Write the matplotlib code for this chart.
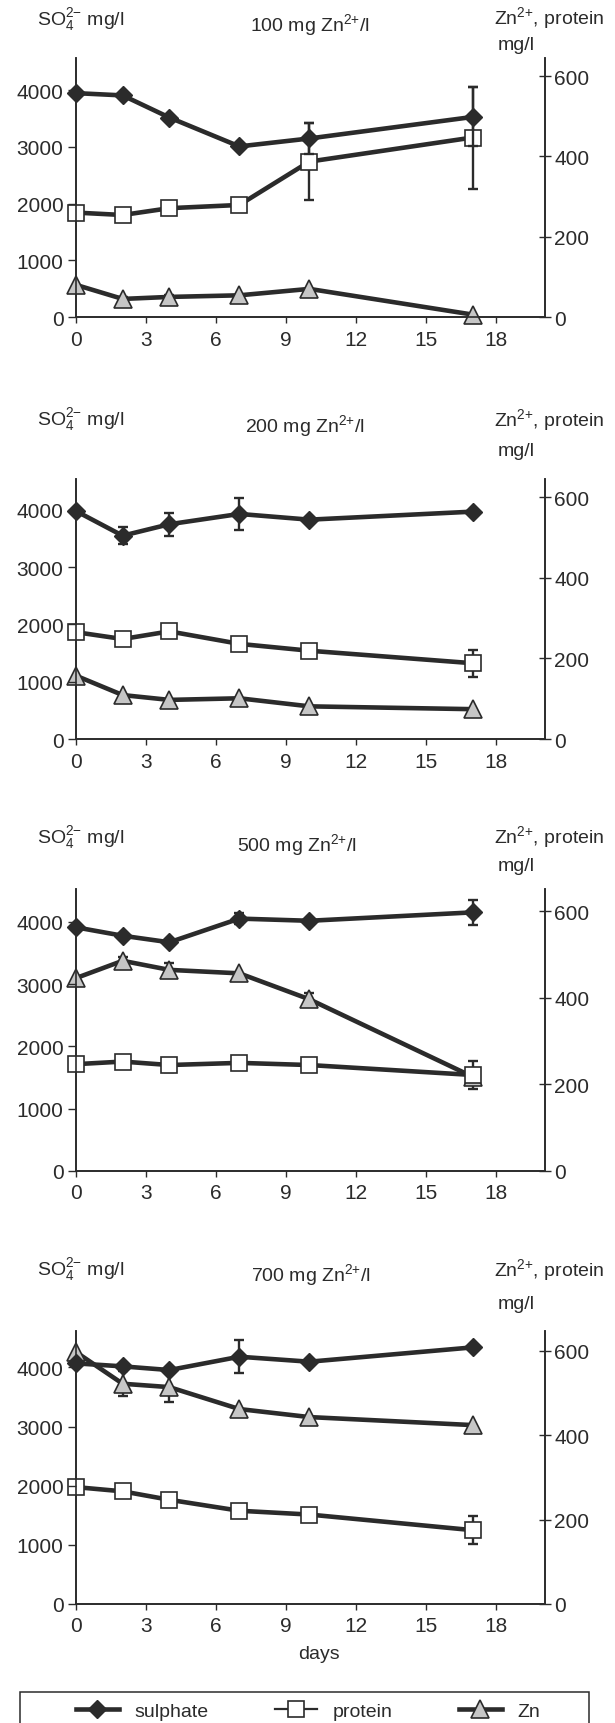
import matplotlib
matplotlib.use('Agg')
from matplotlib import pyplot as plt
from matplotlib.patches import Rectangle
from matplotlib.lines import Line2D
import numpy as np

plt.rcParams['font.family'] = ['Liberation Sans', 'DejaVu Sans']
plt.rcParams['mathtext.fontset'] = 'custom'
plt.rcParams['mathtext.rm'] = 'Liberation Sans'
plt.rcParams['mathtext.default'] = 'regular'

# data
days = [0, 2, 4, 7, 10, 17]
doses = ["100", "200", "500", "700"]

sulphate_100 = [3950, 3910, 3520, 3010, 3150, 3530]
sulphate_100_err = [0, 0, 0, 0, 270, 520]
protein_100 = [260, 254, 271, 279, 387, 447]
protein_100_err = [0, 0, 0, 0, 96, 127]
zn_100 = [80, 45, 50, 54, 70, 6]
zn_100_err = [0, 6, 6, 0, 0, 0]

sulphate_200 = [3980, 3550, 3750, 3930, 3830, 3970]
sulphate_200_err = [0, 150, 205, 275, 0, 0]
protein_200 = [265, 248, 267, 236, 219, 188]
protein_200_err = [0, 0, 0, 0, 0, 34]
zn_200 = [157, 109, 97, 101, 81, 74]
zn_200_err = [0, 0, 0, 0, 0, 0]

sulphate_500 = [3910, 3775, 3670, 4050, 4015, 4150]
sulphate_500_err = [0, 0, 0, 90, 0, 200]
protein_500 = [247, 253, 245, 250, 245, 222]
protein_500_err = [0, 0, 15, 0, 0, 33]
zn_500 = [446, 486, 465, 457, 397, 218]
zn_500_err = [0, 8, 15, 0, 14, 0]

sulphate_700 = [4068, 4017, 3955, 4180, 4096, 4338]
sulphate_700_err = [0, 0, 0, 276, 0, 0]
protein_700 = [277, 267, 247, 221, 212, 175]
protein_700_err = [0, 0, 10, 0, 0, 33]
zn_700 = [597, 522, 514, 462, 443, 424]
zn_700_err = [0, 30, 35, 0, 0, 0]

sulphate_all = [sulphate_100, sulphate_200, sulphate_500, sulphate_700]
sulphate_err_all = [sulphate_100_err, sulphate_200_err, sulphate_500_err, sulphate_700_err]
protein_all = [protein_100, protein_200, protein_500, protein_700]
protein_err_all = [protein_100_err, protein_200_err, protein_500_err, protein_700_err]
zn_all = [zn_100, zn_200, zn_500, zn_700]
zn_err_all = [zn_100_err, zn_200_err, zn_500_err, zn_700_err]

# layout in pixels of the 615x1724 picture
W, H = 615, 1724
ax_left, ax_right = 76, 545
ax_top = [59, 480, 890, 1332]
ax_zero = [318, 740, 1172, 1605]
title_x = [310, 305, 297, 311]
title_y = [25, 426, 845, 1275]
so4_y = [20, 420, 838, 1270]
zn_y = [18, 420, 837, 1270]
mgl_y = [45, 452, 867, 1305]
left_max = [4570, 4540, 4525, 4615]
right_max = [645, 645, 652, 647]

dark = '#2b2b2b'
grey = '#c6c6c6'
fs = 14
fs_tick = 15
lw = 3.3


def fx(px):
    return px / W


def fy(py):
    return 1 - py / H


def err_bars(ax, x, y, e):
    x = np.array(x)
    y = np.array(y)
    e = np.array(e)
    m = e > 0
    if m.any():
        ax.errorbar(x[m], y[m], yerr=e[m], fmt='none', ecolor=dark,
                    elinewidth=1.7, capsize=3.8, capthick=1.7, zorder=2,
                    clip_on=False)


fig = plt.figure(figsize=(W / 100, H / 100), dpi=100)

for i in range(4):
    rect = [fx(ax_left), fy(ax_zero[i]), fx(ax_right - ax_left),
            (ax_zero[i] - ax_top[i]) / H]
    ax = fig.add_axes(rect)
    ax2 = ax.twinx()
    ax.set_zorder(ax2.get_zorder() + 1)
    ax.patch.set_visible(False)

    # protein + Zn on right axis
    err_bars(ax2, days, zn_all[i], zn_err_all[i])
    ax2.plot(days, zn_all[i], color=dark, lw=lw, marker='^', ms=13,
             mfc=grey, mec=dark, mew=1.2, zorder=3, clip_on=False)
    err_bars(ax2, days, protein_all[i], protein_err_all[i])
    ax2.plot(days, protein_all[i], color=dark, lw=lw, marker='s', ms=12,
             mfc='white', mec=dark, mew=1.2, zorder=4, clip_on=False)

    # sulphate on left axis
    err_bars(ax, days, sulphate_all[i], sulphate_err_all[i])
    ax.plot(days, sulphate_all[i], color=dark, lw=lw, marker='D', ms=9.4,
            mfc=dark, mec=dark, mew=1.0, zorder=5, clip_on=False)

    ax.set_xlim(0, 20.1)
    ax.set_ylim(0, left_max[i])
    ax2.set_ylim(0, right_max[i])
    ax.set_xticks(range(0, 19, 3))
    ax.set_yticks([0, 1000, 2000, 3000, 4000])
    ax2.set_yticks([0, 200, 400, 600])

    for a in (ax, ax2):
        a.spines['top'].set_visible(False)
        for s in a.spines.values():
            s.set_color(dark)
            s.set_linewidth(1.2)
    ax.tick_params(axis='y', direction='out', length=5.5, width=1.0,
                   color=dark, labelsize=fs_tick, labelcolor=dark, pad=3.5)
    ax.tick_params(axis='x', direction='out', length=4.5, width=1.0,
                   color=dark, labelsize=fs_tick, labelcolor=dark, pad=4.5)
    ax2.tick_params(axis='y', direction='inout', length=9, width=1.0,
                    color=dark, labelsize=fs_tick, labelcolor=dark, pad=2)

    fig.text(fx(title_x[i]), fy(title_y[i]), doses[i] + ' mg Zn$^{2{+}}$/l',
             ha='center', va='center', fontsize=fs, color=dark)
    fig.text(fx(37), fy(so4_y[i]), 'SO$_4^{2{-}}$ mg/l', ha='left', va='center',
             fontsize=fs, color=dark)
    fig.text(fx(494), fy(zn_y[i]), 'Zn$^{2{+}}$, protein', ha='left', va='center',
             fontsize=fs, color=dark)
    fig.text(fx(498), fy(mgl_y[i]), 'mg/l', ha='left', va='center',
             fontsize=fs, color=dark)

fig.text(fx(319), fy(1655), 'days', ha='center', va='center',
         fontsize=fs, color=dark)

# legend
handles = [
    Line2D([], [], color=dark, lw=lw, marker='D', ms=9.4, mfc=dark, mec=dark),
    Line2D([], [], color=dark, lw=1.6, marker='s', ms=12, mfc='white', mec=dark, mew=1.2),
    Line2D([], [], color=dark, lw=lw, marker='^', ms=13, mfc=grey, mec=dark, mew=1.2),
]
fig.legend(handles, ['sulphate', 'protein', 'Zn'], loc='center', ncol=3,
           bbox_to_anchor=(fx(308), fy(1712)), frameon=False, fontsize=fs,
           handlelength=2.2, handletextpad=0.8, columnspacing=3.4,
           labelcolor=dark)
fig.add_artist(Rectangle((fx(20), fy(1740)), fx(569), (1740 - 1693) / H,
                         transform=fig.transFigure, fill=False, lw=1.1,
                         ec=dark))

plt.savefig('out.png', dpi=100)
